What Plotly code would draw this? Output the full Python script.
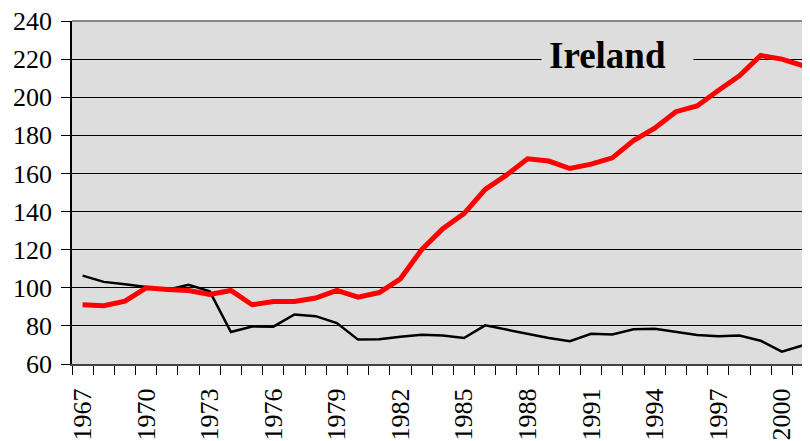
import plotly.graph_objects as go

years = list(range(1967, 2002))
ireland = [91.1, 90.6, 93.0, 100.0, 99.1, 98.6, 96.5, 98.6, 91.1, 92.8,
           92.8, 94.6, 98.6, 95.1, 97.5, 104.7, 120.0, 131.0, 138.9, 151.6,
           159.1, 167.7, 166.5, 162.6, 164.9, 168.2, 177.2, 183.7, 192.4, 195.4,
           203.5, 211.2, 221.9, 220.0, 216.5]
other = [106.4, 103.1, 101.9, 100.3, 99.0, 101.6, 98.1, 76.8, 79.7, 79.6,
         86.0, 85.1, 81.5, 72.8, 73.0, 74.3, 75.4, 75.0, 73.6, 80.3,
         78.0, 75.9, 73.6, 72.0, 75.9, 75.5, 78.2, 78.5, 76.8, 75.2,
         74.5, 75.0, 72.2, 66.5, 69.8]
x_ticks = list(range(1967, 2002, 3))
y_ticks = list(range(60, 241, 20))
title_text = "Ireland"

FONT = "Liberation Serif"
BG = "#DDDDDD"

fig = go.Figure()
fig.add_trace(go.Scatter(x=years, y=other, mode="lines",
                         line=dict(color="#000000", width=2.5), showlegend=False))
fig.add_trace(go.Scatter(x=years, y=ireland, mode="lines",
                         line=dict(color="#FF0000", width=5), showlegend=False))

# the page body has an 8px margin, so the figure is sized to fill the rest
fig.update_layout(
    width=802, height=433,
    margin=dict(l=64, r=0, t=13, b=77, autoexpand=False),
    paper_bgcolor="white", plot_bgcolor=BG,
    font=dict(family=FONT, size=26, color="black"),
    showlegend=False,
)
fig.update_xaxes(
    range=[1966.5, 2001.33], tickmode="array", tickvals=x_ticks,
    ticktext=[str(v) for v in x_ticks], tickangle=-90, ticks="",
    ticklabelstandoff=12, ticklabeloverflow="allow",
    minor=dict(ticks="outside", tick0=1966.5, dtick=1, ticklen=9,
               tickcolor="#000", tickwidth=1, showgrid=False),
    showgrid=False, zeroline=False,
    showline=True, linecolor="#444444", linewidth=2,
    tickfont=dict(family=FONT, size=26, color="black"),
)
fig.update_yaxes(
    range=[60, 240], tickmode="array", tickvals=y_ticks,
    ticks="outside", ticklen=9, tickcolor="#000", tickwidth=1,
    ticklabelstandoff=4, ticklabeloverflow="allow",
    showgrid=True, gridcolor="#000000", gridwidth=1, zeroline=False,
    showline=True, linecolor="#000000", linewidth=1.5,
    tickfont=dict(family=FONT, size=26, color="black"),
)
fig.add_shape(type="line", xref="paper", yref="paper", x0=0, x1=1, y0=1, y1=1,
              line=dict(color="#888888", width=2))
fig.add_annotation(text="<b>" + title_text + "</b>", xref="paper", yref="paper",
                   x=0.739, y=(240 - 18 - 60) / 180, xanchor="center", yanchor="middle",
                   showarrow=False, align="left",
                   font=dict(family=FONT, size=37, color="black"),
                   bgcolor=BG, borderpad=7, width=137)

fig.write_html("out.html")
